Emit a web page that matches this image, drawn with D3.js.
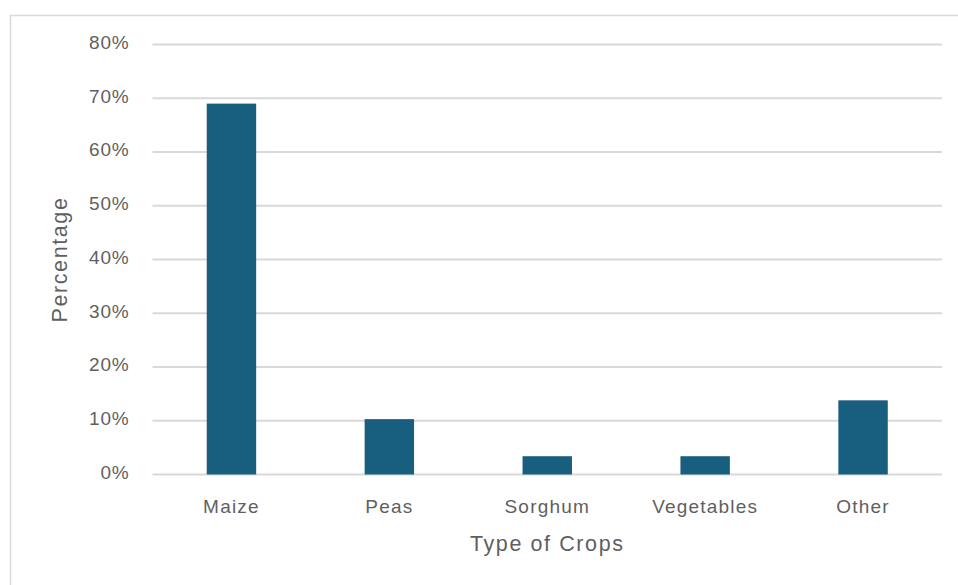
<!DOCTYPE html>
<html>
<head>
<meta charset="utf-8">
<script src="https://cdn.jsdelivr.net/npm/d3@7"></script>
<style>
  html, body { margin: 0; padding: 0; background: #ffffff; }
  svg { display: block; }
  text { font-family: "Liberation Sans", Arial, sans-serif; fill: #5f5f5f; }
</style>
</head>
<body>
<svg id="chart" width="958" height="585"></svg>
<script>
// Share of respondents by crop grown
const categories = ["Maize", "Peas", "Sorghum", "Vegetables", "Other"];
const percentages = [69.0, 10.3, 3.4, 3.4, 13.8];
const yTicks = [0, 10, 20, 30, 40, 50, 60, 70, 80];
const xTitle = "Type of Crops";
const yTitle = "Percentage";

const svg = d3.select("#chart");
const W = 958, H = 585;
const plot = { left: 152.5, right: 942, top: 44.5, bottom: 474.5 };

// outer frame of the chart area
svg.append("rect")
  .attr("x", 10.5).attr("y", 15.5)
  .attr("width", W + 20).attr("height", H + 20)
  .attr("fill", "#ffffff")
  .attr("stroke", "#d9d9d9")
  .attr("stroke-width", 1.5);

const x = d3.scaleBand()
  .domain(categories)
  .range([plot.left, plot.right])
  .paddingInner(0.687)
  .paddingOuter(0.3435);

const y = d3.scaleLinear()
  .domain([0, 80])
  .range([plot.bottom, plot.top]);

// horizontal gridlines
svg.append("g")
  .selectAll("line")
  .data(yTicks)
  .join("line")
  .attr("x1", plot.left).attr("x2", plot.right)
  .attr("y1", d => y(d)).attr("y2", d => y(d))
  .attr("stroke", "#d9d9d9")
  .attr("stroke-width", 2);

// y tick labels
const yAxis = d3.axisLeft(y)
  .tickValues(yTicks)
  .tickFormat(d => d + "%")
  .tickSize(0)
  .tickPadding(23);
const gy = svg.append("g")
  .attr("transform", `translate(${plot.left},0)`)
  .call(yAxis);
gy.select(".domain").remove();
gy.selectAll("text")
  .attr("font-size", 19)
  .attr("letter-spacing", "0.8px")
  .attr("fill", "#5f5f5f")
  .attr("font-family", "Liberation Sans, Arial, sans-serif")
  .attr("dy", "0.2em");

// bars
svg.append("g")
  .selectAll("rect")
  .data(categories.map((c, i) => ({ c, v: percentages[i] })))
  .join("rect")
  .attr("x", d => x(d.c))
  .attr("width", x.bandwidth())
  .attr("y", d => y(d.v))
  .attr("height", d => y(0) - y(d.v))
  .attr("fill", "#185e7f");

// x category labels
const xAxis = d3.axisBottom(x).tickSize(0).tickPadding(0);
const gx = svg.append("g")
  .attr("transform", `translate(0,${plot.bottom})`)
  .call(xAxis);
gx.select(".domain").remove();
gx.selectAll("text")
  .attr("font-size", 19)
  .attr("letter-spacing", "1.2px")
  .attr("fill", "#5f5f5f")
  .attr("font-family", "Liberation Sans, Arial, sans-serif")
  .attr("dy", null)
  .attr("y", 38);

// axis titles
svg.append("text")
  .attr("x", (plot.left + plot.right) / 2)
  .attr("y", 551)
  .attr("text-anchor", "middle")
  .attr("font-size", 21.5)
  .attr("letter-spacing", "1.6px")
  .text(xTitle);

svg.append("text")
  .attr("transform", `translate(67,${(plot.top + plot.bottom) / 2}) rotate(-90)`)
  .attr("text-anchor", "middle")
  .attr("font-size", 21.5)
  .attr("letter-spacing", "1.6px")
  .text(yTitle);
</script>
</body>
</html>
